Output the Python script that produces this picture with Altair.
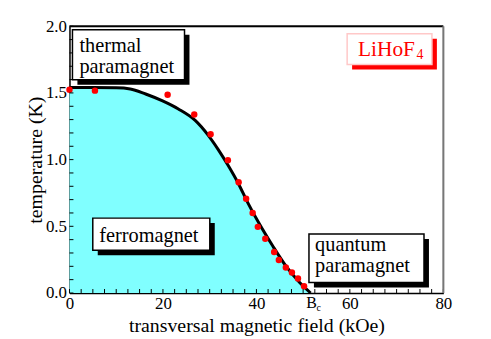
import altair as alt
import pandas as pd

# ---- data ----
curve_field = [0, 5, 10, 13, 16.3, 19.8, 23.3, 26.9, 29.7, 31.8, 33.9, 36.1, 38.2, 40.5, 43.5, 46.3, 49.2, 51.6]
curve_temp = [1.54, 1.54, 1.538, 1.53, 1.492, 1.442, 1.38, 1.294, 1.182, 1.077, 0.959, 0.823, 0.674, 0.526, 0.352, 0.203, 0.08, 0.0]

point_field = [0, 5.45, 21.0, 26.7, 30.2, 33.9, 36.2, 37.8, 39.2, 40.3, 41.9, 43.8, 44.8, 46.3, 47.6, 48.9, 50.2]
point_temp = [1.524, 1.517, 1.487, 1.338, 1.19, 0.996, 0.83, 0.706, 0.60, 0.496, 0.407, 0.307, 0.248, 0.191, 0.154, 0.109, 0.05]

x_labels = [0, 20, 40, 60, 80]
y_labels = [0.0, 0.5, 1.0, 1.5, 2.0]
x_ticks = [i * 2.5 for i in range(33)]
y_ticks = [round(i * 0.1, 1) for i in range(21)]
bc_field = [51.8]

W, H = 377, 269
FONT = "Liberation Serif"

curve = pd.DataFrame({"field": curve_field, "temp": curve_temp})
pts = pd.DataFrame({"field": point_field, "temp": point_temp})

xs = alt.Scale(domain=[0, 80], nice=False, zero=False)
ys = alt.Scale(domain=[0, 2], nice=False, zero=False)

x_axis = alt.Axis(
    values=x_labels, title="transversal magnetic field (kOe)", ticks=False, grid=False,
    domainColor="black", domainWidth=1.5, labelFont=FONT, labelFontSize=17,
    labelColor="black", labelPadding=3, titleFont=FONT, titleFontSize=20,
    titleFontWeight="normal", titleColor="black", titleBaseline="alphabetic",
    titleY=39, labelFlush=False)
y_axis = alt.Axis(
    values=y_labels, format=".1f", title="temperature (K)", ticks=False, grid=False,
    domainColor="black", domainWidth=1.5, labelFont=FONT, labelFontSize=17,
    labelColor="black", labelPadding=3, titleFont=FONT, titleFontSize=20,
    titleFontWeight="normal", titleColor="black", titleAngle=270,
    titleBaseline="alphabetic", titleAlign="center", titleX=-28, titleY=H / 2,
    labelFlush=False)


def X(f):
    return alt.X(f, scale=xs, axis=x_axis)


def Y(f):
    return alt.Y(f, scale=ys, axis=y_axis)


area = alt.Chart(curve).mark_area(color="#80ffff", interpolate="monotone").encode(
    x=X("field:Q"), y=Y("temp:Q"))

line = alt.Chart(curve).mark_line(color="black", strokeWidth=3, interpolate="monotone").encode(
    x=X("field:Q"), y=Y("temp:Q"))

dots = alt.Chart(pts).mark_circle(color="#ff0000", size=42, opacity=1).encode(
    x=X("field:Q"), y=Y("temp:Q"))

yt = alt.Chart(pd.DataFrame({"temp": y_ticks})).mark_rule(color="black", strokeWidth=1).encode(
    y=Y("temp:Q"), x=alt.value(0), x2=alt.value(4))
xt = alt.Chart(pd.DataFrame({"field": x_ticks})).mark_rule(color="black", strokeWidth=1).encode(
    x=X("field:Q"), y=alt.value(H), y2=alt.value(H - 4))

top_border = alt.Chart(pd.DataFrame({"a": [0]})).mark_rule(color="black", strokeWidth=2).encode(
    x=alt.value(0), x2=alt.value(W), y=alt.value(0))
right_border = alt.Chart(pd.DataFrame({"a": [0]})).mark_rule(color="#777777", strokeWidth=2).encode(
    x=alt.value(W), y=alt.value(0), y2=alt.value(H))


def box(x1, y1, x2, y2, stroke="black", shadow="black", sw=1.5):
    d = pd.DataFrame({"a": [0]})
    sh = alt.Chart(d).mark_rect(color=shadow).encode(
        x=alt.value(x1 + 5), x2=alt.value(x2 + 5), y=alt.value(y1 + 5), y2=alt.value(y2 + 5))
    bx = alt.Chart(d).mark_rect(fill="white", stroke=stroke, strokeWidth=sw).encode(
        x=alt.value(x1), x2=alt.value(x2), y=alt.value(y1), y2=alt.value(y2))
    return sh + bx


def label(text, x, y, size=20.5, color="black"):
    d = pd.DataFrame({"t": [text]})
    return alt.Chart(d).mark_text(font=FONT, fontSize=size, color=color, align="left",
                                  baseline="alphabetic", lineBreak="\n", lineHeight=21).encode(
        text="t:N", x=alt.value(x), y=alt.value(y))


annotations = (
    box(3, 3.5, 116, 54) + label("thermal\nparamagnet", 10, 25.7)
    + box(23.5, 193.5, 141.5, 226) + label("ferromagnet", 30, 217.7)
    + box(241.5, 209.5, 357.5, 258.5) + label("quantum\nparamagnet", 247.7, 226.7)
    + box(280, 7.5, 365.5, 38.5, stroke="#ffc8c8", shadow="#ff0000", sw=1.5)
    + label("LiHoF", 291, 30, size=21.5, color="#ff0000")
    + label("4", 350, 33.5, size=14, color="#ff0000")
)

bc = pd.DataFrame({"field": bc_field})
bc_b = alt.Chart(bc).mark_text(font=FONT, fontSize=16, color="black", align="center",
                               baseline="alphabetic", text="B").encode(
    x=X("field:Q"), y=alt.value(H + 15.5))
bc_c = alt.Chart(bc).mark_text(font=FONT, fontSize=10, color="black", align="left",
                               baseline="alphabetic", text="c", dx=5).encode(
    x=X("field:Q"), y=alt.value(H + 18.5))

chart = alt.layer(
    area, line, dots, yt, xt, top_border, right_border, annotations, bc_b, bc_c
).properties(
    width=W, height=H,
    autosize=alt.AutoSizeParams(type="none"),
    padding={"left": 62, "top": 17, "right": 40, "bottom": 45},
).configure_view(stroke=None).configure(background="white")

chart.save("out.html", embed_options={"renderer": "svg", "actions": False})
